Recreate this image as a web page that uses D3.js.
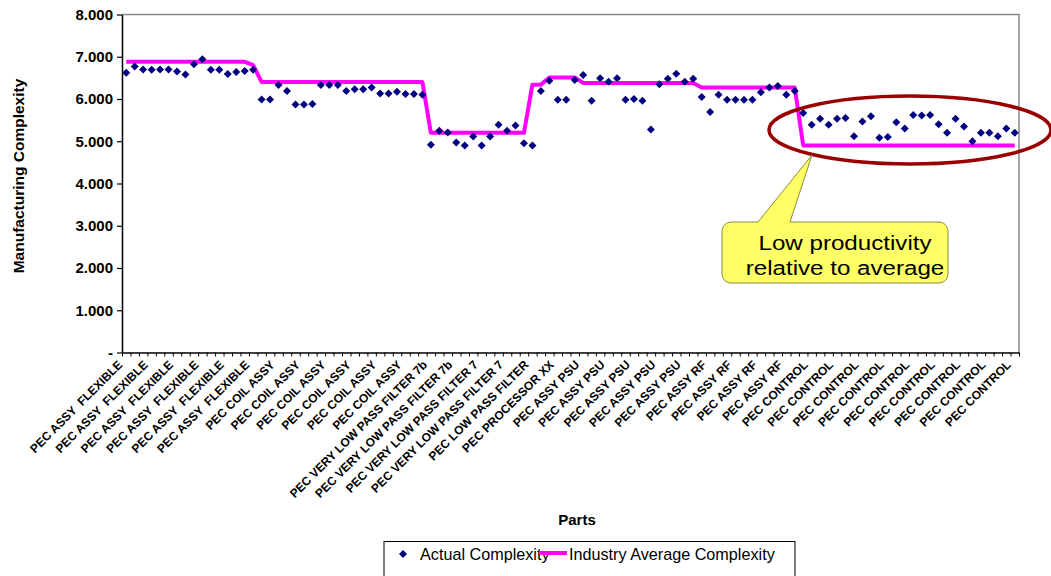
<!DOCTYPE html>
<html>
<head>
<meta charset="utf-8">
<script src="https://cdn.jsdelivr.net/npm/d3@7/dist/d3.min.js"></script>
<style>
  html, body { margin: 0; padding: 0; background: #fff; }
  svg { display: block; font-family: "Liberation Sans", Arial, sans-serif; }
</style>
</head>
<body>
<svg id="chart" width="1051" height="576"></svg>
<script>
// ---- data -------------------------------------------------------------
const partGroups = [
  ["PEC ASSY  FLEXIBLE", 16],
  ["PEC COIL ASSY", 20],
  ["PEC VERY LOW PASS FILTER 7b", 6],
  ["PEC VERY LOW PASS FILTER 7", 6],
  ["PEC LOW PASS FILTER", 2],
  ["PEC PROCESSOR XX", 4],
  ["PEC ASSY PSU", 14],
  ["PEC ASSY RF", 12],
  ["PEC CONTROL", 26]
];
const categories = partGroups.flatMap(([name, n]) => Array(n).fill(name));

const actualComplexity = [
  6.62, 6.77, 6.70, 6.69, 6.70, 6.70, 6.65, 6.58, 6.82, 6.94,
  6.69, 6.69, 6.59, 6.64, 6.66, 6.69, 5.99, 5.99, 6.33, 6.19,
  5.87, 5.87, 5.88, 6.33, 6.33, 6.33, 6.19, 6.23, 6.23, 6.27,
  6.13, 6.13, 6.17, 6.12, 6.12, 6.10, 4.92, 5.25, 5.21, 4.97,
  4.90, 5.11, 4.90, 5.11, 5.39, 5.25, 5.37, 4.95, 4.90, 6.19,
  6.43, 5.98, 5.98, 6.45, 6.57, 5.96, 6.49, 6.41, 6.49, 5.98,
  6.00, 5.96, 5.28, 6.35, 6.48, 6.60, 6.41, 6.48, 6.05, 5.69,
  6.10, 5.98, 5.98, 5.98, 5.98, 6.16, 6.27, 6.31, 6.10, 6.19,
  5.67, 5.39, 5.53, 5.39, 5.53, 5.55, 5.12, 5.47, 5.59, 5.08,
  5.10, 5.45, 5.30, 5.62, 5.61, 5.62, 5.40, 5.20, 5.53, 5.35,
  5.00, 5.20, 5.20, 5.12, 5.30, 5.20
];

const industryAverage = [
  6.88, 6.88, 6.88, 6.88, 6.88, 6.88, 6.88, 6.88, 6.88, 6.88,
  6.88, 6.88, 6.88, 6.88, 6.88, 6.80, 6.40, 6.40, 6.40, 6.40,
  6.40, 6.40, 6.40, 6.40, 6.40, 6.40, 6.40, 6.40, 6.40, 6.40,
  6.40, 6.40, 6.40, 6.40, 6.40, 6.40, 5.20, 5.20, 5.20, 5.20,
  5.20, 5.20, 5.20, 5.20, 5.20, 5.20, 5.20, 5.20, 6.34, 6.34,
  6.51, 6.51, 6.51, 6.51, 6.38, 6.38, 6.38, 6.38, 6.38, 6.38,
  6.38, 6.38, 6.38, 6.38, 6.38, 6.38, 6.38, 6.38, 6.27, 6.27,
  6.27, 6.27, 6.27, 6.27, 6.27, 6.27, 6.27, 6.27, 6.27, 6.27,
  4.90, 4.90, 4.90, 4.90, 4.90, 4.90, 4.90, 4.90, 4.90, 4.90,
  4.90, 4.90, 4.90, 4.90, 4.90, 4.90, 4.90, 4.90, 4.90, 4.90,
  4.90, 4.90, 4.90, 4.90, 4.90, 4.90
];

const yTicks = [0, 1, 2, 3, 4, 5, 6, 7, 8];
const labelEvery = 3;
const seriesNames = ["Actual Complexity", "Industry Average Complexity"];
const calloutLines = ["Low productivity", "relative to average"];

// ---- layout -----------------------------------------------------------
const plot = { left: 122, right: 1019, top: 14.5, bottom: 352.5 };
const navy = "#000080", magenta = "#ff00ff";

const svg = d3.select("#chart");
const idx = d3.range(categories.length);

const x = d3.scaleBand().domain(idx).range([plot.left, plot.right]).padding(0);
const xEdge = d3.scaleLinear().domain([0, categories.length]).range([plot.left, plot.right]);
const y = d3.scaleLinear().domain([0, 8]).range([plot.bottom, plot.top]);
const cx = i => x(i) + x.bandwidth() / 2;

// plot frame: grey top and right edges
svg.append("path")
  .attr("d", `M${plot.left},${plot.top}H${plot.right}V${plot.bottom}`)
  .attr("fill", "none").attr("stroke", "#888").attr("stroke-width", 1.5);

// y axis
const yAxis = svg.append("g")
  .attr("transform", `translate(${plot.left},0)`)
  .call(d3.axisLeft(y).tickValues(yTicks).tickSize(5).tickSizeOuter(0)
    .tickFormat(d => d === 0 ? "-" : d3.format(".3f")(d)));
yAxis.select(".domain").attr("stroke", "#000").attr("stroke-width", 1.5);
yAxis.selectAll(".tick line").attr("stroke", "#000").attr("stroke-width", 1.2);
yAxis.selectAll(".tick text")
  .attr("x", -9).attr("font-size", 15).attr("font-weight", "bold")
  .attr("font-family", "Liberation Sans, Arial, sans-serif").attr("fill", "#000");

// x axis: ticks on category boundaries
const xAxis = svg.append("g")
  .attr("transform", `translate(0,${plot.bottom})`)
  .call(d3.axisBottom(xEdge).tickValues(d3.range(categories.length + 1))
    .tickSize(4).tickSizeOuter(0).tickFormat(""));
xAxis.select(".domain").attr("stroke", "#000").attr("stroke-width", 1.5);
xAxis.selectAll(".tick line").attr("stroke", "#000").attr("stroke-width", 1);

// category labels, every third part, rotated
svg.append("g").selectAll("text")
  .data(idx.filter(i => i % labelEvery === 0))
  .join("text")
  .attr("transform", i => `translate(${cx(i) - 6},${plot.bottom + 10}) rotate(-45)`)
  .attr("text-anchor", "end")
  .attr("dy", "0.35em")
  .attr("font-size", 12).attr("font-weight", "bold")
  .style("white-space", "pre")
  .text(i => categories[i]);

// axis titles
svg.append("text")
  .attr("transform", `translate(24,176) rotate(-90)`)
  .attr("text-anchor", "middle")
  .attr("font-size", 15.5).attr("font-weight", "bold")
  .text("Manufacturing Complexity");

svg.append("text")
  .attr("x", 577).attr("y", 525)
  .attr("text-anchor", "middle")
  .attr("font-size", 15).attr("font-weight", "bold")
  .text("Parts");

// industry average line
svg.append("path")
  .datum(idx)
  .attr("fill", "none").attr("stroke", magenta).attr("stroke-width", 4)
  .attr("stroke-linejoin", "round")
  .attr("d", d3.line().x(i => cx(i)).y(i => y(industryAverage[i])));

// actual complexity diamonds
const diamond = "M0,-4L4,0L0,4L-4,0Z";
svg.append("g").selectAll("path")
  .data(idx)
  .join("path")
  .attr("d", diamond)
  .attr("transform", i => `translate(${cx(i)},${y(actualComplexity[i])})`)
  .attr("fill", navy);

// highlight ellipse around the control parts
svg.append("ellipse")
  .attr("cx", 910).attr("cy", 130).attr("rx", 141).attr("ry", 34)
  .attr("fill", "none").attr("stroke", "#990000").attr("stroke-width", 3.5);

// callout
const box = { x0: 722, x1: 948, y0: 222, y1: 283, r: 9 };
const tip = { x: 812, y: 155 };
const callout = d3.path();
callout.moveTo(box.x0 + box.r, box.y0);
callout.lineTo(758, box.y0);
callout.lineTo(tip.x, tip.y);
callout.lineTo(790, box.y0);
callout.lineTo(box.x1 - box.r, box.y0);
callout.arcTo(box.x1, box.y0, box.x1, box.y0 + box.r, box.r);
callout.lineTo(box.x1, box.y1 - box.r);
callout.arcTo(box.x1, box.y1, box.x1 - box.r, box.y1, box.r);
callout.lineTo(box.x0 + box.r, box.y1);
callout.arcTo(box.x0, box.y1, box.x0, box.y1 - box.r, box.r);
callout.lineTo(box.x0, box.y0 + box.r);
callout.arcTo(box.x0, box.y0, box.x0 + box.r, box.y0, box.r);
callout.closePath();
svg.append("path")
  .attr("d", callout.toString())
  .attr("fill", "#ffff66").attr("stroke", "#8c8c3a").attr("stroke-width", 1);

svg.append("g")
  .attr("transform", "translate(845,0) scale(1.15,1)")
  .selectAll("text")
  .data(calloutLines)
  .join("text")
  .attr("x", 0)
  .attr("y", (d, k) => 250 + k * 25)
  .attr("text-anchor", "middle")
  .attr("font-size", 21)
  .text(d => d);

// legend
const legend = svg.append("g");
legend.append("rect")
  .attr("x", 384).attr("y", 541.5).attr("width", 411).attr("height", 50)
  .attr("fill", "#fff").attr("stroke", "#000").attr("stroke-width", 1);
legend.append("path")
  .attr("d", diamond)
  .attr("transform", "translate(403,554)")
  .attr("fill", navy);
legend.append("text")
  .attr("x", 420).attr("y", 559.5)
  .attr("font-size", 16.2)
  .text(seriesNames[0]);
legend.append("line")
  .attr("x1", 539).attr("x2", 567).attr("y1", 553).attr("y2", 553)
  .attr("stroke", magenta).attr("stroke-width", 4);
legend.append("text")
  .attr("x", 569).attr("y", 559.5)
  .attr("font-size", 16.2)
  .text(seriesNames[1]);
</script>
</body>
</html>
